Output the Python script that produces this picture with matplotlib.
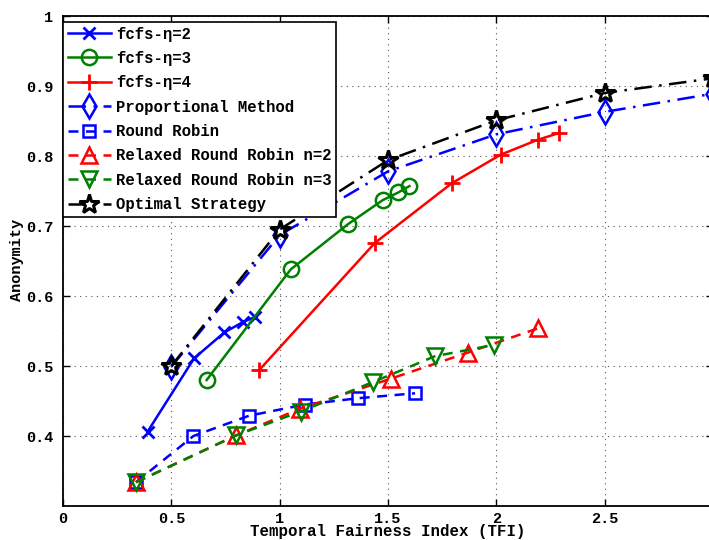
import matplotlib
matplotlib.use("Agg")
import matplotlib.pyplot as plt

# ---- data ----
fcfs2_x = [0.39, 0.605, 0.745, 0.832, 0.886]
fcfs2_y = [0.406, 0.511, 0.548, 0.563, 0.570]

fcfs3_x = [0.663, 1.051, 1.317, 1.476, 1.548, 1.599]
fcfs3_y = [0.480, 0.638, 0.703, 0.737, 0.748, 0.757]

fcfs4_x = [0.905, 1.44, 1.794, 2.021, 2.19, 2.291]
fcfs4_y = [0.494, 0.676, 0.761, 0.802, 0.823, 0.833]

prop_x = [0.5, 1.0, 1.5, 2.0, 2.5, 3.0]
prop_y = [0.499, 0.687, 0.778, 0.831, 0.863, 0.889]

rr_x = [0.337, 0.602, 0.859, 1.117, 1.363, 1.625]
rr_y = [0.334, 0.400, 0.429, 0.445, 0.454, 0.461]

rrr2_x = [0.337, 0.80, 1.094, 1.514, 1.867, 2.194]
rrr2_y = [0.334, 0.401, 0.439, 0.482, 0.519, 0.554]

rrr3_x = [0.337, 0.80, 1.097, 1.43, 1.717, 1.987]
rrr3_y = [0.334, 0.401, 0.435, 0.477, 0.514, 0.530]

opt_x = [0.5, 1.0, 1.5, 2.0, 2.5, 3.0]
opt_y = [0.500, 0.695, 0.794, 0.851, 0.890, 0.911]

labels = ["fcfs-\u03b7=2", "fcfs-\u03b7=3", "fcfs-\u03b7=4", "Proportional Method",
          "Round Robin", "Relaxed Round Robin n=2", "Relaxed Round Robin n=3",
          "Optimal Strategy"]

x_ticks = [0, 0.5, 1, 1.5, 2, 2.5]
x_ticklabels = ["0", "0.5", "1", "1.5", "2", "2.5"]
y_ticks = [0.4, 0.5, 0.6, 0.7, 0.8, 0.9, 1.0]
y_ticklabels = ["0.4", "0.5", "0.6", "0.7", "0.8", "0.9", "1"]

mono = ["Liberation Mono", "DejaVu Sans Mono"]

fig = plt.figure(figsize=(7.09, 5.40), dpi=100)
ax = fig.add_axes([63/709, 34/540, 650/709, 490/540])

lw = 1.8
dashdot = (0, (7, 3, 1, 3))
dashed = (0, (4, 3))
ax.plot(fcfs2_x, fcfs2_y, color="#0000ff", ls="-", lw=lw, marker="x", ms=9, mew=2, label=labels[0])
ax.plot(fcfs3_x, fcfs3_y, color="#008000", ls="-", lw=lw, marker="o", ms=11, mew=1.8, mfc="none", label=labels[1])
ax.plot(fcfs4_x, fcfs4_y, color="#ff0000", ls="-", lw=lw, marker="+", ms=12, mew=2, label=labels[2])
ax.plot(prop_x, prop_y, color="#0000ff", ls=dashdot, lw=lw, marker="d", ms=12, mew=1.8, mfc="none", label=labels[3])
ax.plot(rr_x, rr_y, color="#0000ff", ls=dashed, lw=lw, marker="s", ms=9, mew=1.8, mfc="none", label=labels[4])
ax.plot(rrr2_x, rrr2_y, color="#ff0000", ls=dashed, lw=lw, marker="^", ms=12, mew=1.8, mfc="none", label=labels[5])
ax.plot(rrr3_x, rrr3_y, color="#008000", ls=dashed, lw=lw, marker="v", ms=12, mew=1.8, mfc="none", label=labels[6])
ax.plot(opt_x, opt_y, color="#000000", ls=dashdot, lw=lw, marker="*", ms=15, mew=2.2, mfc="none", label=labels[7])

ax.set_xlim(0, 3)
ax.set_ylim(0.3, 1.0)
ax.set_xticks(x_ticks)
ax.set_xticklabels(x_ticklabels)
ax.set_yticks(y_ticks)
ax.set_yticklabels(y_ticklabels)
ax.grid(True, ls=(0, (1, 4)), color="#555555", lw=0.8)
ax.tick_params(direction="in", top=True, right=True, length=5, width=1)
ax.tick_params(axis="x", pad=4)
ax.tick_params(axis="y", pad=7)
for lab in ax.get_xticklabels() + ax.get_yticklabels():
    lab.set_family(mono)
    lab.set_fontweight("bold")
    lab.set_fontsize(11)
for s in ax.spines.values():
    s.set_linewidth(1.3)

ax.set_xlabel("Temporal Fairness Index (TFI)", family=mono, fontweight="bold", fontsize=11.3)
ax.xaxis.set_label_coords(0.5, -0.037)
ax.set_ylabel("Anonymity", family=mono, fontweight="bold", fontsize=11, va="center")
ax.yaxis.set_label_coords(-0.071, 0.502)

leg = ax.legend(loc="upper left", bbox_to_anchor=(0.0, 0.988), prop={"family": mono, "weight": "bold", "size": 11.25},
                frameon=True, fancybox=False, edgecolor="black", framealpha=1, borderaxespad=0.0,
                handlelength=2.75, labelspacing=0.6, borderpad=0.3, handletextpad=0.35)
leg.get_frame().set_linewidth(1.2)

fig.savefig("out.png", dpi=100)
